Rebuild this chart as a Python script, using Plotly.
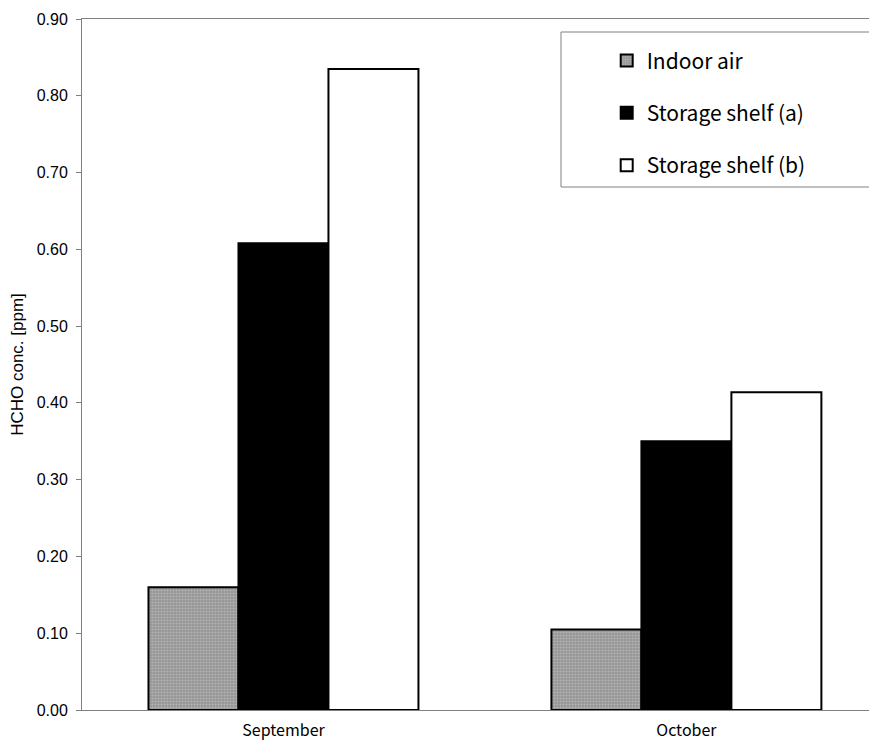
import plotly.graph_objects as go

months = ["September", "October"]
indoor_air = [0.160, 0.105]
shelf_a = [0.608, 0.350]
shelf_b = [0.835, 0.414]
y_ticks = [0.0, 0.1, 0.2, 0.3, 0.4, 0.5, 0.6, 0.7, 0.8, 0.9]
y_tick_text = ["0.00", "0.10", "0.20", "0.30", "0.40", "0.50", "0.60", "0.70", "0.80", "0.90"]

fig = go.Figure()
fig.add_trace(go.Bar(
    x=months, y=indoor_air, name="Indoor air", legendgroup="g1",
    marker=dict(color="#959595", line=dict(color="black", width=2),
                pattern=dict(shape=".", fgcolor="#d4d4d4", size=3, solidity=0.4, fillmode="overlay")),
))
fig.add_trace(go.Bar(
    x=months, y=shelf_a, name="Storage shelf (a)", legendgroup="g2",
    marker=dict(color="black", line=dict(color="black", width=2)),
))
fig.add_trace(go.Bar(
    x=months, y=shelf_b, name="Storage shelf (b)", legendgroup="g3",
    marker=dict(color="white", line=dict(color="black", width=2)),
))

fig.update_layout(
    width=869, height=735,
    margin=dict(l=74, r=0, t=11, b=33),
    paper_bgcolor="white", plot_bgcolor="white",
    barmode="group", bargap=0.33, bargroupgap=0,
    showlegend=True,
    legend=dict(x=0.660, y=0.969, xanchor="left", yanchor="top",
                bgcolor="rgba(0,0,0,0)", borderwidth=0,
                font=dict(family="Noto Sans CJK JP", size=21, color="black"),
                traceorder="grouped", tracegroupgap=22, itemwidth=30),
    shapes=[dict(type="rect", xref="paper", yref="paper",
                 x0=(561 - 82) / 795, x1=(876 - 82) / 795,
                 y0=(710 - 187) / 691, y1=(710 - 32) / 691,
                 line=dict(color="#808080", width=1), fillcolor="rgba(0,0,0,0)")],
    xaxis=dict(range=[-0.5, 1.473], showline=True, linecolor="#808080", linewidth=1,
               mirror=True, ticks="", showgrid=False, ticklabelstandoff=6, automargin=False,
               tickfont=dict(family="Noto Sans CJK JP", size=16, color="black")),
    yaxis=dict(range=[0, 0.9], tickvals=y_ticks, ticktext=y_tick_text,
               showline=True, linecolor="#808080", linewidth=1,
               ticks="outside", ticklen=5, tickcolor="#808080", showgrid=False, zeroline=False,
               ticklabelstandoff=5,
               tickfont=dict(family="Liberation Sans", size=16, color="black"),
               title=dict(text="HCHO conc. [ppm]", standoff=8,
                          font=dict(family="Liberation Sans", size=17, color="black"))),
)

fig.write_html("out.html")
